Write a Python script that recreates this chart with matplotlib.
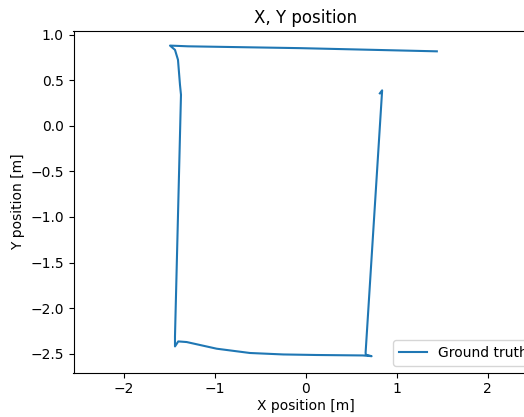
import matplotlib

matplotlib.use("Agg")
import matplotlib.pyplot as plt

# ground truth trajectory
x_pos = [1.441, -0.066, -1.298, -1.496, -1.441, -1.408, -1.386, -1.375,
         -1.441, -1.441, -1.405, -1.312, -0.982, -0.616, -0.250, 0.118,
         0.627, 0.723, 0.660, 0.657, 0.839, 0.814]
y_pos = [0.817, 0.852, 0.872, 0.880, 0.833, 0.724, 0.450, 0.340,
         -2.310, -2.420, -2.365, -2.372, -2.445, -2.492, -2.508, -2.514,
         -2.519, -2.527, -2.511, -2.489, 0.389, 0.356]

fig = plt.figure(figsize=(5.24, 4.17), dpi=100)
ax = fig.add_axes([73.5 / 524, 44.5 / 417, 465 / 524, 341.5 / 417])

ax.plot(x_pos, y_pos, label="Ground truth")
ax.set_xlim(-2.558, 2.56)
ax.set_ylim(-2.706, 1.04)
ax.set_title("X, Y position")
ax.set_xlabel("X position [m]", labelpad=2)
ax.set_ylabel("Y position [m]")
# the legend box runs past the right edge, as in the reference
ax.legend(loc="lower right", bbox_to_anchor=(1.003, 0.0))

fig.savefig("out.png", dpi=100)
